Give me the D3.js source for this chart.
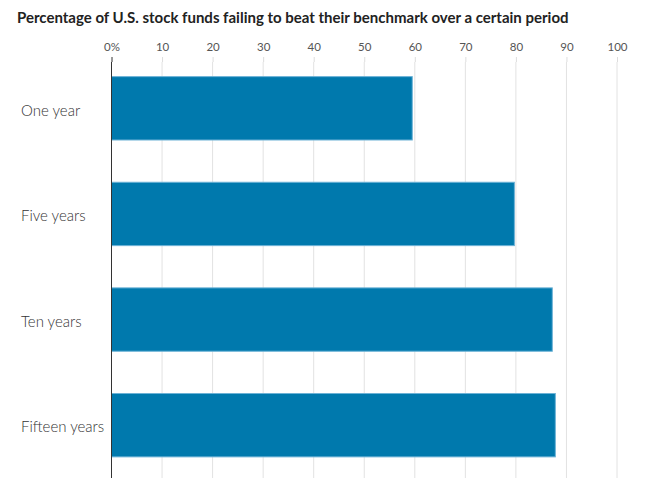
<!DOCTYPE html>
<html>
<head>
<meta charset="utf-8">
<script src="https://cdn.jsdelivr.net/npm/d3@7"></script>
<style>
  body { margin: 0; background: #fff; }
  svg text { font-family: Lato, "Noto Sans", sans-serif; }
</style>
</head>
<body>
<svg id="chart"></svg>
<script>
// values
const periods = ["One year", "Five years", "Ten years", "Fifteen years"];
const failing = [59.5, 79.7, 87.2, 87.8];
const xTicks = [0, 10, 20, 30, 40, 50, 60, 70, 80, 90, 100];

const width = 649, height = 489;
const margin = {top: 62, right: 32, bottom: 11, left: 111.5};

const svg = d3.select("#chart")
    .attr("width", width)
    .attr("height", height);

svg.append("text")
    .attr("x", 17)
    .attr("y", 23)
    .style("font-size", "15px")
    .style("font-weight", "bold")
    .style("fill", "#222")
    .text("Percentage of U.S. stock funds failing to beat their benchmark over a certain period");

const x = d3.scaleLinear()
    .domain([0, 100])
    .range([margin.left, 617]);

const y = d3.scaleBand()
    .domain(periods)
    .range([55.5, 478])
    .paddingInner(0.4)
    .paddingOuter(0.2);

const data = periods.map((p, i) => ({period: p, value: failing[i]}));

// gridlines
svg.append("g")
    .selectAll("line")
    .data(xTicks.slice(1))
    .join("line")
    .attr("x1", d => x(d))
    .attr("x2", d => x(d))
    .attr("y1", margin.top)
    .attr("y2", height - margin.bottom)
    .attr("stroke", "#e2e2e2")
    .attr("stroke-width", 1);

// top axis
const xAxis = svg.append("g")
    .attr("transform", `translate(0,${margin.top})`)
    .call(d3.axisTop(x)
        .tickValues(xTicks)
        .tickSize(5)
        .tickPadding(6)
        .tickFormat(d => d === 0 ? "0%" : d));

xAxis.select(".domain").remove();
xAxis.selectAll(".tick line").attr("stroke", d => d === 0 ? "#333" : "#ddd");
xAxis.selectAll(".tick text")
    .style("font-size", "11.5px")
    .style("fill", "#555")
    .style("font-family", "Lato, sans-serif");

// bars
svg.append("g")
    .selectAll("rect")
    .data(data)
    .join("rect")
    .attr("x", x(0))
    .attr("y", d => y(d.period))
    .attr("width", d => x(d.value) - x(0))
    .attr("height", y.bandwidth())
    .attr("fill", "#0079ad")
    .attr("stroke", "#6cb2d6")
    .attr("stroke-width", 1);

// y axis line
svg.append("line")
    .attr("x1", x(0))
    .attr("x2", x(0))
    .attr("y1", margin.top)
    .attr("y2", height - margin.bottom)
    .attr("stroke", "#333")
    .attr("stroke-width", 1);

// category labels
svg.append("g")
    .selectAll("text")
    .data(data)
    .join("text")
    .attr("x", 21)
    .attr("y", d => y(d.period) + y.bandwidth() / 2 + 2)
    .attr("dy", "0.35em")
    .style("font-size", "15px")
    .style("font-weight", 300)
    .style("fill", "#333")
    .text(d => d.period);
</script>
</body>
</html>
